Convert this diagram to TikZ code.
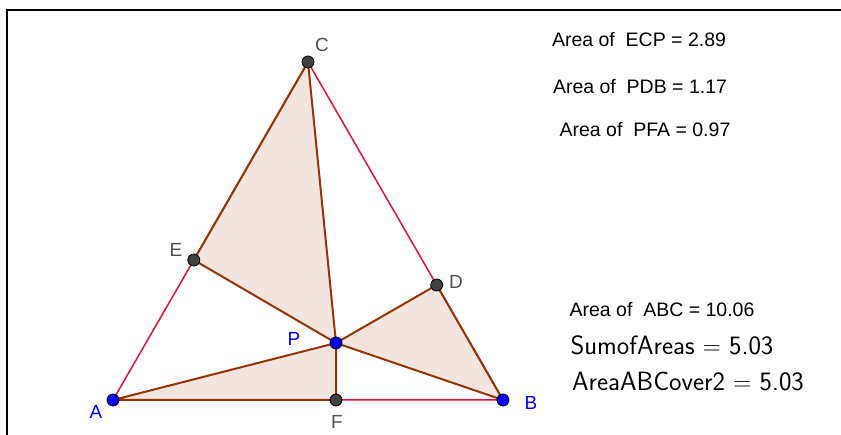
\documentclass[tikz,border=0pt]{standalone}
\usepackage{fontspec}
\setmainfont{Liberation Sans}
\begin{document}
\begin{tikzpicture}[x=1pt,y=-1pt,
  poly/.style={draw=polybrown,line width=2pt,line join=round},
  side/.style={draw=sidered,line width=1.5pt},
  gpt/.style={circle,fill=ptgray,draw=black,line width=0.8pt,inner sep=0pt,minimum size=12pt},
  bpt/.style={circle,fill=blue,draw=black,line width=0.8pt,inner sep=0pt,minimum size=12pt},
  glab/.style={text=labgray,font=\fontsize{19}{21}\selectfont},
  blab/.style={text=blue,font=\fontsize{19}{21}\selectfont},
  info/.style={font=\fontsize{19.5}{22}\selectfont},
  big/.style={font=\sffamily\fontsize{26.5}{30}\selectfont}
]
\definecolor{polyfill}{RGB}{242,229,224}
\definecolor{polybrown}{RGB}{153,51,0}
\definecolor{sidered}{RGB}{220,20,60}
\definecolor{ptgray}{RGB}{64,64,64}
\definecolor{labgray}{RGB}{80,80,80}
\useasboundingbox (0,0) rectangle (841,435);
\draw[line width=2.2pt] (7,435) -- (7,10) -- (841,10);
\coordinate (A) at (113,400);
\coordinate (B) at (503,400);
\coordinate (C) at (308,62);
\coordinate (P) at (336,343);
\coordinate (F) at (336,400);
\coordinate (E) at (193.8,260);
\coordinate (D) at (436.7,285);
\fill[polyfill] (E) -- (C) -- (P) -- cycle;
\fill[polyfill] (P) -- (D) -- (B) -- cycle;
\fill[polyfill] (P) -- (F) -- (A) -- cycle;
\draw[side] (A) -- (B) -- (C) -- cycle;
\draw[poly] (E) -- (C) -- (P) -- cycle;
\draw[poly] (P) -- (D) -- (B) -- cycle;
\draw[poly] (P) -- (F) -- (A) -- cycle;
\node[gpt] (nC) at (C) {};
\node[gpt] (nE) at (E) {};
\node[gpt] (nD) at (D) {};
\node[gpt] (nF) at (F) {};
\node[bpt] (nA) at (A) {};
\node[bpt] (nB) at (B) {};
\node[bpt] (nP) at (P) {};
\node[glab] (lC) at (322,45) {C};
\node[glab] (lE) at (176,250) {E};
\node[glab] (lD) at (456,282) {D};
\node[glab] (lF) at (337,422) {F};
\node[blab] (lA) at (96,412) {A};
\node[blab] (lB) at (531,403) {B};
\node[blab] (lP) at (294,339) {P};
\node[info] (t1) at (639,40) {Area of\ \ ECP = 2.89};
\node[info] (t2) at (640,87) {Area of\ \ PDB = 1.17};
\node[info] (t3) at (645,130) {Area of\ \ PFA = 0.97};
\node[info] (t4) at (662,310) {Area of\ \ ABC = 10.06};
\node[big] (t5) at (672,345) {SumofAreas\ $=$\ 5.03};
\node[big] (t6) at (688,382) {AreaABCover2\ $=$\ 5.03};
\end{tikzpicture}
\end{document}
